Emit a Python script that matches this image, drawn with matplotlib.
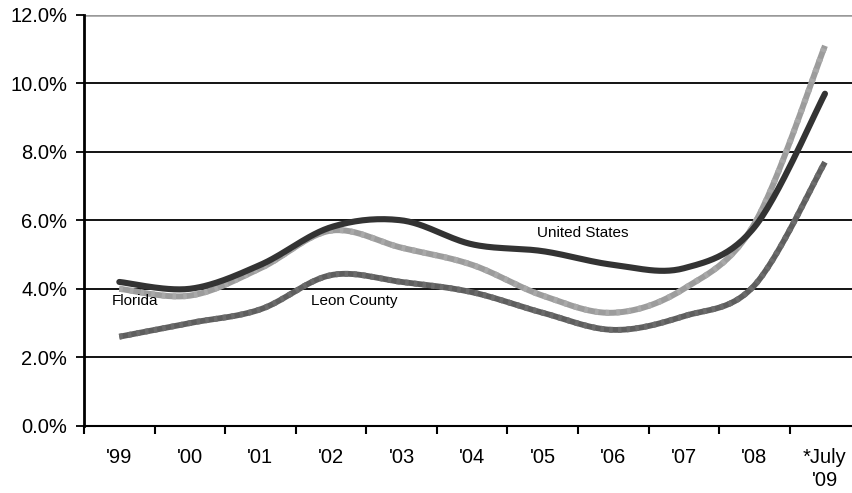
import numpy as np
import matplotlib.pyplot as plt

# Unemployment rate, annual averages (July for 2009)
years = ["'99", "'00", "'01", "'02", "'03", "'04", "'05", "'06", "'07", "'08", "*July\n'09"]
us = [4.2, 4.0, 4.7, 5.8, 6.0, 5.3, 5.1, 4.7, 4.6, 5.8, 9.7]
florida = [4.0, 3.8, 4.6, 5.7, 5.2, 4.7, 3.8, 3.3, 4.0, 5.9, 11.1]
leon = [2.6, 3.0, 3.4, 4.4, 4.2, 3.9, 3.3, 2.8, 3.2, 4.1, 7.7]


def smooth(y, n=30):
    # Excel-style smoothed line (Catmull-Rom as cubic Bezier)
    x = np.arange(len(y), dtype=float)
    y = np.asarray(y, dtype=float)
    px = np.concatenate([[x[0]], x, [x[-1]]])
    py = np.concatenate([[y[0]], y, [y[-1]]])
    t = np.linspace(0, 1, n)[:, None]
    xs, ys = [], []
    for i in range(len(y) - 1):
        p0 = np.array([px[i + 1], py[i + 1]])
        p3 = np.array([px[i + 2], py[i + 2]])
        p1 = p0 + (p3 - np.array([px[i], py[i]])) / 6
        p2 = p3 - (np.array([px[i + 3], py[i + 3]]) - p0) / 6
        b = (1 - t) ** 3 * p0 + 3 * (1 - t) ** 2 * t * p1 + 3 * (1 - t) * t ** 2 * p2 + t ** 3 * p3
        xs.append(b[:, 0])
        ys.append(b[:, 1])
    return np.concatenate(xs), np.concatenate(ys)


plt.rcParams["font.family"] = ["Liberation Sans", "DejaVu Sans"]

fig = plt.figure(figsize=(8.53, 4.93), dpi=100)
ax = fig.add_axes([0.0985, 0.1365, 0.91, 0.8331])

for v in [2, 4, 6, 8, 10]:
    ax.axhline(v, color="black", lw=1.3, zorder=1)
ax.axhline(12, color="#999999", lw=1.8, zorder=1)

lx, ly = smooth(leon)
ax.plot(lx, ly, color="#5e5e5e", lw=4.2, solid_capstyle="butt", zorder=2)
ax.plot(lx, ly, color="#6c6c6c", lw=4.2, dashes=(0.6, 0.9), zorder=2)

fx, fy = smooth(florida)
ax.plot(fx, fy, color="#9c9c9c", lw=4.3, solid_capstyle="butt", zorder=3)
ax.plot(fx, fy, color="#a9a9a9", lw=4.3, dashes=(0.6, 1.2), zorder=3)

ux, uy = smooth(us)
ax.plot(ux, uy, color="#333333", lw=4.4, solid_capstyle="round", zorder=4)

ax.text(-0.11, 3.65, "Florida", fontsize=11, va="center", ha="left")
ax.text(2.72, 3.65, "Leon County", fontsize=11, va="center", ha="left")
ax.text(5.92, 5.63, "United States", fontsize=11, va="center", ha="left")

ax.set_xlim(-0.5, len(years) - 0.5)
ax.set_ylim(0, 12)
ax.set_yticks(np.arange(0, 12.1, 2))
ax.set_yticklabels([f"{v:.1f}%" for v in np.arange(0, 12.1, 2)], fontsize=14.5)
ax.set_xticks(np.arange(len(years)))
ax.set_xticklabels(years, fontsize=14.5, va="top", linespacing=1.3)
ax.set_xticks(np.arange(len(years) + 1) - 0.5, minor=True)
ax.tick_params(axis="x", which="major", length=0, pad=16)
ax.tick_params(axis="x", which="minor", length=6, width=1.5, direction="out")
ax.tick_params(axis="y", length=6, width=1.3, direction="out", pad=6)

for s in ["top", "right"]:
    ax.spines[s].set_visible(False)
ax.spines["left"].set_linewidth(2)
ax.spines["bottom"].set_linewidth(1.5)

plt.savefig("out.png", dpi=100)
